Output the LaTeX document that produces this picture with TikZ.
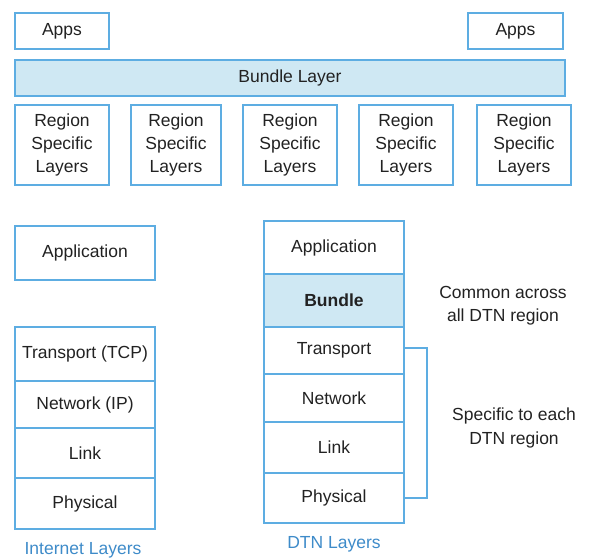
\documentclass[tikz,border=0pt]{standalone}
\usepackage{fontspec}
\setmainfont{Liberation Sans}
\usetikzlibrary{calc}
\definecolor{bord}{HTML}{5DADE2}
\definecolor{bfill}{HTML}{CFE8F3}
\definecolor{lab}{HTML}{3E8BC9}
\definecolor{txt}{HTML}{222222}
\begin{document}
\begin{tikzpicture}[x=1pt,y=-1pt,
  every node/.style={font=\fontsize{17.5}{23.3}\selectfont, text=txt},
  box/.style={draw=bord, line width=1.6pt, fill=white, inner sep=0pt, align=center},
  filled/.style={box, fill=bfill},
  caption/.style={text=lab},
  note/.style={align=center, text=txt}]
\useasboundingbox (0,0) rectangle (589,559);
% top section
\newcommand{\bx}[6]{\node[#1, minimum width={#4-#2}, minimum height={#5-#3}] (#6) at ({(#2+#4)/2},{(#3+#5)/2}) {};}
\node[box, minimum width=94, minimum height=36] (apps1) at (62,31) {Apps};
\node[box, minimum width=95, minimum height=36] (apps2) at (515.5,31) {Apps};
\node[filled, minimum width=550, minimum height=36] (bundle) at (290,78) {Bundle Layer};
\foreach \l/\r [count=\i] in {15/109,131/221,243/337,359/453,477/571}{
  \node[box, minimum width={\r-\l}, minimum height=80] (rsl\i) at ({(\l+\r)/2},145) {Region\\Specific\\Layers};
}
% internet layers
\node[box, minimum width=140, minimum height=54] (iapp) at (85,253) {Application};
\node[box, minimum width=140, minimum height=54] (itcp) at (85,354) {Transport (TCP)};
\node[box, minimum width=140, minimum height=47] (iip) at (85,404.5) {Network (IP)};
\node[box, minimum width=140, minimum height=50] (ilink) at (85,453) {Link};
\node[box, minimum width=140, minimum height=51] (iphy) at (85,503.5) {Physical};
\node[caption] (icap) at (83,550) {Internet Layers};
% DTN layers
\node[box, minimum width=140, minimum height=53] (dapp) at (334,247.5) {Application};
\node[filled, minimum width=140, minimum height=53] (dbun) at (334,300.5) {\bfseries Bundle};
\node[box, minimum width=140, minimum height=47] (dtra) at (334,350.5) {Transport};
\node[box, minimum width=140, minimum height=48] (dnet) at (334,398) {Network};
\node[box, minimum width=140, minimum height=51] (dlink) at (334,447.5) {Link};
\node[box, minimum width=140, minimum height=50] (dphy) at (334,498) {Physical};
\node[caption] (dcap) at (334,544) {DTN Layers};
% bracket
\coordinate (bk) at (427,348);
\draw[bord, line width=1.4pt] ($(dtra.east)+(0,-2.5)$) -- (bk) |- (dphy.east);
% notes
\node[note] (common) at (503,306) {Common across\\all DTN region};
\node[note] (spec) at (514,428) {Specific to each\\DTN region};
\end{tikzpicture}
\end{document}
